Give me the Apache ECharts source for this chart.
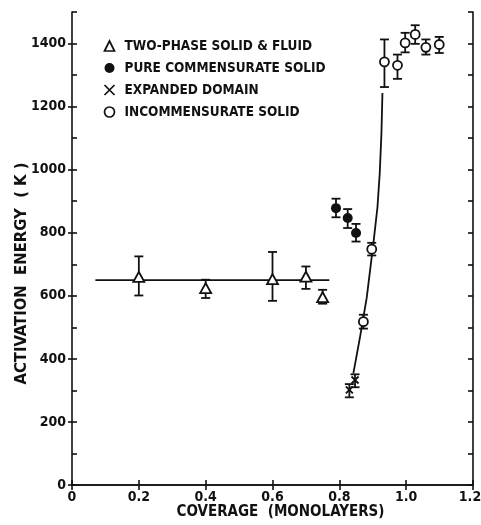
<!DOCTYPE html>
<html>
<head>
<meta charset="utf-8">
<script src="https://cdn.jsdelivr.net/npm/echarts@6/dist/echarts.min.js"></script>
<style>
  html, body { margin: 0; padding: 0; background: #fff; }
  #chart { width: 481px; height: 525px; }
</style>
</head>
<body>
<div id="chart"></div>
<script>
// Activation energy vs. coverage, grouped by phase
const xTicks = [0, 0.2, 0.4, 0.6, 0.8, 1.0, 1.2];
const yTicks = [0, 200, 400, 600, 800, 1000, 1200, 1400];

const twoPhaseX  = [0.20, 0.40, 0.60, 0.70, 0.75];
const twoPhaseY  = [660, 624, 653, 661, 596];
const twoPhaseLo = [601, 593, 584, 622, 575];
const twoPhaseHi = [725, 651, 739, 693, 619];

const commX  = [0.79, 0.825, 0.85];
const commY  = [878, 847, 799];
const commLo = [849, 815, 772];
const commHi = [908, 875, 828];

const expX  = [0.83, 0.847];
const expY  = [302, 333];
const expLo = [278, 310];
const expHi = [320, 351];

const incX  = [0.872, 0.897, 0.935, 0.974, 0.997, 1.027, 1.059, 1.099];
const incY  = [518, 748, 1342, 1331, 1402, 1429, 1388, 1397];
const incLo = [496, 728, 1262, 1288, 1372, 1399, 1365, 1370];
const incHi = [540, 768, 1413, 1365, 1434, 1458, 1413, 1421];

// guide lines
const flatX  = [0.07, 0.77];
const flatY  = [650, 650];
const curveX = [0.842, 0.862, 0.882, 0.902, 0.914, 0.921, 0.926, 0.929];
const curveY = [354, 470, 594, 767, 880, 990, 1115, 1243];

const seriesNames = [
  'TWO-PHASE SOLID & FLUID',
  'PURE COMMENSURATE SOLID',
  'EXPANDED DOMAIN',
  'INCOMMENSURATE SOLID'
];

const FONT = '"Liberation Sans Narrow", "DejaVu Sans Condensed", sans-serif';
const INK = '#111';

const zip = (xs, ys) => xs.map((x, i) => [x, ys[i]]);
const bars = (xs, lo, hi) => xs.map((x, i) => [x, lo[i], hi[i]]);

const errorData = [].concat(
  bars(twoPhaseX, twoPhaseLo, twoPhaseHi),
  bars(commX, commLo, commHi),
  bars(expX, expLo, expHi),
  bars(incX, incLo, incHi)
);

const crossPath = 'path://M0,0L10,10M10,0L0,10';

const chart = echarts.init(document.getElementById('chart'), null, { renderer: 'canvas' });

const frameLine = { show: true, lineStyle: { color: INK, width: 1.6 } };
const innerTick = { show: true, inside: true, length: 5, lineStyle: { color: INK, width: 1.6 } };

const option = {
  animation: false,
  backgroundColor: '#fff',
  grid: { left: 72, right: 8, top: 12, bottom: 40, outerBoundsMode: 'none', containLabel: false },
  legend: {
    orient: 'vertical',
    left: 97, top: 33,
    itemWidth: 10, itemHeight: 10, itemGap: 6,
    textStyle: { fontFamily: FONT, fontWeight: 'bold', fontSize: 13.5, color: INK, lineHeight: 16, padding: [0, 0, 0, 5] },
    data: [
      { name: seriesNames[0], icon: 'triangle', itemStyle: { color: '#fff', borderColor: INK, borderWidth: 1.7 } },
      { name: seriesNames[1], icon: 'circle', itemStyle: { color: INK, borderColor: INK, borderWidth: 0 } },
      { name: seriesNames[2], icon: crossPath, itemStyle: { color: 'none', borderColor: INK, borderWidth: 1.7 } },
      { name: seriesNames[3], icon: 'circle', itemStyle: { color: '#fff', borderColor: INK, borderWidth: 1.7 } }
    ]
  },
  xAxis: [
    {
      type: 'value', min: 0, max: 1.2, interval: 0.2, position: 'bottom',
      name: 'COVERAGE  (MONOLAYERS)', nameLocation: 'middle', nameGap: 20, nameMoveOverlap: false,
      nameTextStyle: { fontFamily: FONT, fontWeight: 'bold', fontSize: 15, color: INK, padding: [0, 0, 0, 16] },
      axisLine: frameLine,
      axisTick: innerTick,
      axisLabel: {
        margin: 5, fontFamily: FONT, fontWeight: 'bold', fontSize: 14, color: INK,
        formatter: v => {
          const t = xTicks.find(k => Math.abs(k - v) < 1e-6);
          if (t === undefined) return '';
          if (t === 0) return '0';
          return t === 1.2 ? '{edge|' + t.toFixed(1) + '}' : t.toFixed(1);
        },
        rich: { edge: { fontFamily: FONT, fontWeight: 'bold', fontSize: 14, color: INK, padding: [0, 6, 0, 0] } }
      },
      splitLine: { show: false }
    },
    {
      type: 'value', min: 0, max: 1.2, interval: 0.2, position: 'top',
      axisLine: frameLine, axisTick: innerTick,
      axisLabel: { show: false }, splitLine: { show: false }
    }
  ],
  yAxis: [
    {
      type: 'value', min: 0, max: 1500, interval: 100, position: 'left',
      name: 'ACTIVATION  ENERGY  ( K )', nameLocation: 'middle', nameGap: 42, nameRotate: 90,
      nameMoveOverlap: false,
      nameTextStyle: { fontFamily: FONT, fontWeight: 'bold', fontSize: 16.5, color: INK, padding: [0, 50, 0, 0] },
      axisLine: frameLine,
      axisTick: innerTick,
      axisLabel: {
        margin: 6, fontFamily: FONT, fontWeight: 'bold', fontSize: 14, color: INK,
        formatter: v => (yTicks.indexOf(v) >= 0 ? String(v) : '')
      },
      splitLine: { show: false }
    },
    {
      // outward ticks at the labelled values
      type: 'value', min: 0, max: 1500, interval: 100, position: 'left',
      axisLine: { show: false },
      axisTick: { show: true, inside: false, length: 4, customValues: yTicks, lineStyle: { color: INK, width: 1.6 } },
      axisLabel: { show: false }, splitLine: { show: false }
    },
    {
      type: 'value', min: 0, max: 1500, interval: 100, position: 'right',
      axisLine: frameLine, axisTick: innerTick,
      axisLabel: { show: false }, splitLine: { show: false }
    }
  ],
  series: [
    {
      type: 'line', name: 'flat', data: zip(flatX, flatY), symbol: 'none', z: 1,
      lineStyle: { color: INK, width: 1.8 }, silent: true
    },
    {
      type: 'line', name: 'rise', data: zip(curveX, curveY), symbol: 'none', smooth: false, z: 1,
      lineStyle: { color: INK, width: 1.8 }, silent: true
    },
    {
      type: 'custom', name: 'errors', data: errorData, z: 2,
      renderItem: (params, api) => {
        const x = api.value(0);
        const lo = api.coord([x, api.value(1)]);
        const hi = api.coord([x, api.value(2)]);
        const cap = 4.5;
        const style = { stroke: INK, lineWidth: 1.8, fill: null };
        return {
          type: 'group',
          children: [
            { type: 'line', shape: { x1: lo[0], y1: lo[1], x2: hi[0], y2: hi[1] }, style },
            { type: 'line', shape: { x1: lo[0] - cap, y1: lo[1], x2: lo[0] + cap, y2: lo[1] }, style },
            { type: 'line', shape: { x1: hi[0] - cap, y1: hi[1], x2: hi[0] + cap, y2: hi[1] }, style }
          ]
        };
      },
      encode: { x: 0, y: [1, 2] }
    },
    {
      type: 'scatter', name: seriesNames[0], data: zip(twoPhaseX, twoPhaseY), z: 5,
      symbol: 'triangle', symbolSize: [11, 10],
      itemStyle: { color: '#fff', borderColor: INK, borderWidth: 1.8, opacity: 1 }
    },
    {
      type: 'scatter', name: seriesNames[1], data: zip(commX, commY), z: 5,
      symbol: 'circle', symbolSize: 10,
      itemStyle: { color: INK, opacity: 1 }
    },
    {
      type: 'scatter', name: seriesNames[2], data: zip(expX, expY), z: 5,
      symbol: crossPath, symbolSize: 7,
      itemStyle: { color: 'none', borderColor: INK, borderWidth: 1.8, opacity: 1 }
    },
    {
      type: 'scatter', name: seriesNames[3], data: zip(incX, incY), z: 5,
      symbol: 'circle', symbolSize: 9,
      itemStyle: { color: '#fff', borderColor: INK, borderWidth: 1.8, opacity: 1 }
    }
  ]
};

chart.setOption(option);
</script>
</body>
</html>
